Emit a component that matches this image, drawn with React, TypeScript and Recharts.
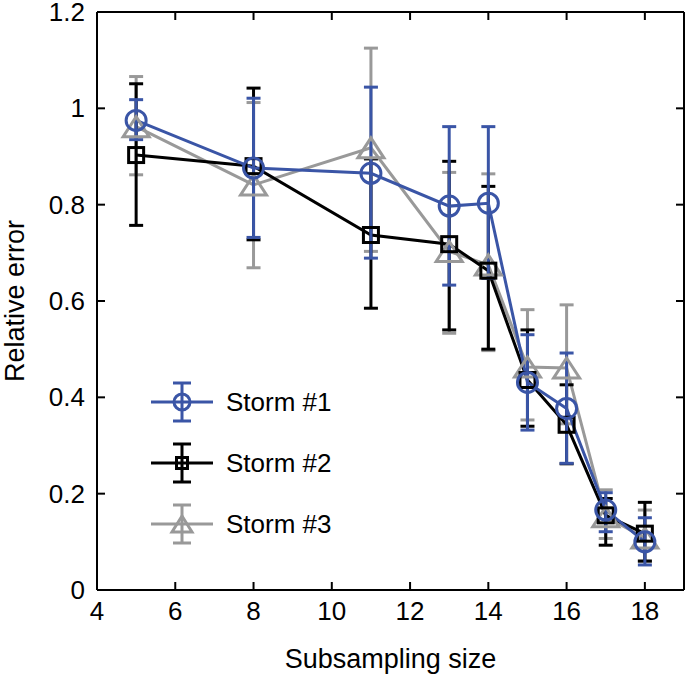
import React from 'react';
import { ComposedChart, Line, XAxis, YAxis, ErrorBar } from 'recharts';

// subsampling sizes on the x axis
const sizes = [5, 8, 11, 13, 14, 15, 16, 17, 18];

// Storm #1 (blue, circles)
const storm1 = [0.975, 0.876, 0.865, 0.797, 0.803, 0.431, 0.377, 0.166, 0.1];
const storm1Low = [0.935, 0.732, 0.689, 0.633, 0.647, 0.332, 0.263, 0.121, 0.052];
const storm1High = [1.018, 1.021, 1.044, 0.962, 0.962, 0.53, 0.492, 0.202, 0.15];

// Storm #2 (black, squares)
const storm2 = [0.903, 0.88, 0.737, 0.718, 0.663, 0.436, 0.343, 0.155, 0.117];
const storm2Low = [0.757, 0.727, 0.585, 0.54, 0.5, 0.34, 0.262, 0.093, 0.06];
const storm2High = [1.051, 1.042, 0.895, 0.89, 0.838, 0.54, 0.426, 0.19, 0.182];

// Storm #3 (grey, triangles)
const storm3 = [0.962, 0.841, 0.918, 0.703, 0.675, 0.463, 0.461, 0.152, 0.108];
const storm3Low = [0.862, 0.669, 0.703, 0.533, 0.497, 0.353, 0.345, 0.107, 0.06];
const storm3High = [1.066, 1.012, 1.125, 0.867, 0.864, 0.582, 0.592, 0.208, 0.166];

const xTicks = [4, 6, 8, 10, 12, 14, 16, 18];
const yTicks = [0, 0.2, 0.4, 0.6, 0.8, 1, 1.2];

const BLUE = '#3a55a6';
const GREY = '#999999';
const BLACK = '#000000';
const FONT = '"Liberation Sans", Arial, Helvetica, sans-serif';
const FS = 26;
const TITLE_FS = 27;

const data = sizes.map((x, i) => ({
  x,
  s1: storm1[i],
  e1: [storm1[i] - storm1Low[i], storm1High[i] - storm1[i]],
  s2: storm2[i],
  e2: [storm2[i] - storm2Low[i], storm2High[i] - storm2[i]],
  s3: storm3[i],
  e3: [storm3[i] - storm3Low[i], storm3High[i] - storm3[i]],
}));

const Circle = ({ cx, cy, r = 10, color }: any) => (
  <circle cx={cx} cy={cy} r={r} fill='none' stroke={color} strokeWidth={3} />
);
const Square = ({ cx, cy, h = 7.5, color }: any) => (
  <rect x={cx - h} y={cy - h} width={2 * h} height={2 * h} fill='none' stroke={color} strokeWidth={3} />
);
const Triangle = ({ cx, cy, w = 13, h = 10, color }: any) => (
  <polygon
    points={`${cx},${cy - h} ${cx + w},${cy + h} ${cx - w},${cy + h}`}
    fill='none'
    stroke={color}
    strokeWidth={3}
  />
);

const legendItems = [
  { name: 'Storm #1', color: BLUE, shape: 'circle' },
  { name: 'Storm #2', color: BLACK, shape: 'square' },
  { name: 'Storm #3', color: GREY, shape: 'triangle' },
];

const BottomTick = ({ x, y, payload }: any) => (
  <g>
    <line x1={x} y1={y} x2={x} y2={y - 8} stroke='#000' strokeWidth={2} />
    <text x={x} y={y + 30} textAnchor='middle' fontSize={FS} fontFamily={FONT} fill='#000'>
      {payload.value}
    </text>
  </g>
);
const TopTick = ({ x, y }: any) => (
  <line x1={x} y1={y} x2={x} y2={y + 8} stroke='#000' strokeWidth={2} />
);
const LeftTick = ({ x, y, payload }: any) => (
  <g>
    <line x1={x} y1={y} x2={x + 8} y2={y} stroke='#000' strokeWidth={2} />
    <text x={x - 12} y={y + 9} textAnchor='end' fontSize={FS} fontFamily={FONT} fill='#000'>
      {payload.value}
    </text>
  </g>
);
const RightTick = ({ x, y }: any) => (
  <line x1={x} y1={y} x2={x - 8} y2={y} stroke='#000' strokeWidth={2} />
);

function LegendBox() {
  return (
    <svg width={240} height={190} style={{ position: 'absolute', left: 140, top: 370 }}>
      {legendItems.map((it, i) => {
        const cy = 32 + i * 61;
        const cx = 42;
        return (
          <g key={it.name}>
            <line x1={11} y1={cy} x2={73} y2={cy} stroke={it.color} strokeWidth={3} />
            <line x1={cx} y1={cy - 19} x2={cx} y2={cy + 19} stroke={it.color} strokeWidth={3} />
            <line x1={cx - 9} y1={cy - 19} x2={cx + 9} y2={cy - 19} stroke={it.color} strokeWidth={3} />
            <line x1={cx - 9} y1={cy + 19} x2={cx + 9} y2={cy + 19} stroke={it.color} strokeWidth={3} />
            {it.shape === 'circle' && <Circle cx={cx} cy={cy} r={8} color={it.color} />}
            {it.shape === 'square' && <Square cx={cx} cy={cy} h={5.5} color={it.color} />}
            {it.shape === 'triangle' && <Triangle cx={cx} cy={cy} w={10} h={8} color={it.color} />}
            <text x={86} y={cy + 9} fontSize={FS} fontFamily={FONT} fill='#000'>
              {it.name}
            </text>
          </g>
        );
      })}
    </svg>
  );
}

export default function App() {
  return (
    <div style={{ position: 'relative', width: 685, height: 674, background: '#fff' }}>
      <style>{'body{margin:0;}'}</style>
      <ComposedChart width={685} height={674} data={data} margin={{ top: 11, right: 0, bottom: 0, left: 0 }}>
        <XAxis
          dataKey='x'
          type='number'
          domain={[4, 19]}
          ticks={xTicks}
          height={84}
          tickSize={0}
          tickMargin={0}
          axisLine={{ stroke: '#000', strokeWidth: 2 }}
          tick={<BottomTick />}
          allowDataOverflow
          label={{
            content: ({ viewBox }: any) => (
              <text
                x={viewBox.x + viewBox.width / 2}
                y={viewBox.y + 78}
                textAnchor='middle'
                fontSize={TITLE_FS}
                fontFamily={FONT}
                fill='#000'
              >
                Subsampling size
              </text>
            ),
          }}
        />
        <XAxis
          xAxisId='top'
          orientation='top'
          dataKey='x'
          type='number'
          domain={[4, 19]}
          ticks={xTicks}
          height={1}
          tickSize={0}
          tickMargin={0}
          axisLine={{ stroke: '#000', strokeWidth: 2 }}
          tick={<TopTick />}
          allowDataOverflow
        />
        <YAxis
          type='number'
          domain={[0, 1.2]}
          ticks={yTicks}
          width={97}
          tickSize={0}
          tickMargin={0}
          axisLine={{ stroke: '#000', strokeWidth: 2 }}
          tick={<LeftTick />}
          allowDataOverflow
          label={{
            content: ({ viewBox }: any) => {
              const cy = viewBox.y + viewBox.height / 2;
              return (
                <text
                  x={24}
                  y={cy}
                  transform={`rotate(-90 24 ${cy})`}
                  textAnchor='middle'
                  fontSize={TITLE_FS}
                  fontFamily={FONT}
                  fill='#000'
                >
                  Relative error
                </text>
              );
            },
          }}
        />
        <YAxis
          yAxisId='right'
          orientation='right'
          type='number'
          domain={[0, 1.2]}
          ticks={yTicks}
          width={1}
          tickSize={0}
          tickMargin={0}
          axisLine={{ stroke: '#000', strokeWidth: 2 }}
          tick={<RightTick />}
          allowDataOverflow
        />
        <Line
          dataKey='s3'
          stroke={GREY}
          strokeWidth={3}
          isAnimationActive={false}
          dot={(p: any) => <Triangle key={`t${p.index}`} cx={p.cx} cy={p.cy} color={GREY} />}
          activeDot={false}
        >
          <ErrorBar dataKey='e3' direction='y' width={7} stroke={GREY} strokeWidth={3} />
        </Line>
        <Line
          dataKey='s2'
          stroke={BLACK}
          strokeWidth={3}
          isAnimationActive={false}
          dot={(p: any) => <Square key={`s${p.index}`} cx={p.cx} cy={p.cy} color={BLACK} />}
          activeDot={false}
        >
          <ErrorBar dataKey='e2' direction='y' width={7} stroke={BLACK} strokeWidth={3} />
        </Line>
        <Line
          dataKey='s1'
          stroke={BLUE}
          strokeWidth={3}
          isAnimationActive={false}
          dot={(p: any) => <Circle key={`c${p.index}`} cx={p.cx} cy={p.cy} color={BLUE} />}
          activeDot={false}
        >
          <ErrorBar dataKey='e1' direction='y' width={7} stroke={BLUE} strokeWidth={3} />
        </Line>
      </ComposedChart>
      <LegendBox />
    </div>
  );
}
